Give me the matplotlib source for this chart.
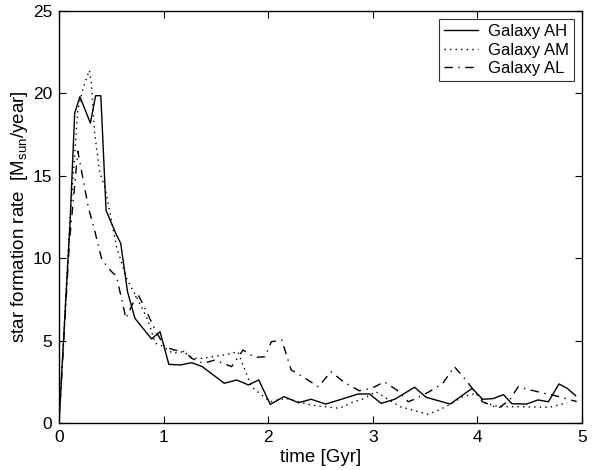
import numpy as np
import matplotlib
matplotlib.use('Agg')
import matplotlib.pyplot as plt

plt.rcParams['font.family'] = ['Liberation Sans', 'DejaVu Sans']

# Galaxy AH (solid)
t_ah = [0, 0.105, 0.15, 0.2, 0.3, 0.35, 0.4, 0.45, 0.55, 0.59, 0.655, 0.726, 0.885, 0.966,
        1.05, 1.16, 1.27, 1.37, 1.58, 1.70, 1.81, 1.91, 2.02, 2.15, 2.29, 2.41, 2.55, 2.70,
        2.86, 2.97, 3.08, 3.21, 3.40, 3.51, 3.74, 3.95, 4.05, 4.15, 4.25, 4.33, 4.47, 4.58,
        4.68, 4.78, 4.86, 4.94]
sfr_ah = [0, 12.1, 18.8, 19.8, 18.2, 19.86, 19.86, 12.9, 11.4, 10.9, 7.97, 6.35, 5.1, 5.54,
          3.56, 3.52, 3.66, 3.42, 2.41, 2.61, 2.31, 2.61, 1.13, 1.6, 1.23, 1.44, 1.15, 1.44,
          1.76, 1.76, 1.19, 1.44, 2.17, 1.56, 1.15, 2.1, 1.44, 1.48, 1.72, 1.17, 1.15, 1.4,
          1.29, 2.37, 2.1, 1.66]

# Galaxy AM (dotted)
t_am = [0, 0.1, 0.18, 0.23, 0.29, 0.31, 0.34, 0.39, 0.44, 0.55, 0.65, 0.74, 0.85, 0.92,
        0.97, 1.09, 1.19, 1.28, 1.37, 1.46, 1.59, 1.71, 1.84, 2.02, 2.17, 2.29, 2.41, 2.54,
        2.68, 2.82, 2.90, 3.03, 3.26, 3.38, 3.52, 3.60, 3.73, 3.86, 3.99, 4.08, 4.21, 4.40,
        4.69, 4.78, 4.86]
sfr_am = [0, 11.8, 19.0, 20.3, 21.4, 20.6, 17.6, 15.2, 14.3, 10.7, 8.7, 7.66, 6.25, 4.84,
          4.73, 4.23, 4.33, 3.92, 3.92, 4.02, 4.13, 4.33, 2.2, 1.29, 1.5, 1.29, 1.09, 0.99,
          0.89, 1.29, 1.44, 1.9, 0.99, 0.79, 0.53, 0.69, 1.09, 1.6, 1.8, 1.2, 0.99, 0.99,
          0.95, 1.1, 1.23]

# Galaxy AL (dash-dot)
t_al = [0, 0.1, 0.18, 0.28, 0.34, 0.41, 0.50, 0.55, 0.64, 0.75, 0.83, 0.92, 1.01, 1.10,
        1.20, 1.27, 1.38, 1.49, 1.65, 1.76, 1.87, 1.97, 2.03, 2.13, 2.22, 2.33, 2.48, 2.60,
        2.72, 2.87, 2.99, 3.11, 3.23, 3.34, 3.42, 3.54, 3.67, 3.78, 3.89, 4.05, 4.20, 4.31,
        4.39, 4.51, 4.64, 4.72, 4.95]
sfr_al = [0, 11.0, 16.5, 13.1, 11.7, 9.9, 9.2, 8.9, 6.35, 7.87, 6.86, 5.64, 4.63, 4.43,
          4.33, 3.92, 3.62, 3.82, 3.42, 4.43, 3.98, 4.02, 4.93, 5.04, 3.22, 2.81, 2.2, 3.11,
          2.5, 1.96, 2.1, 2.5, 2.0, 1.29, 1.5, 1.9, 2.41, 3.42, 2.61, 1.29, 0.89, 1.4,
          2.2, 2.0, 1.8, 1.7, 1.3]

fig = plt.figure(figsize=(5.99, 4.70), dpi=100)
ax = fig.add_axes([0.0985, 0.1, 0.873, 0.8766])

ax.plot(t_ah, sfr_ah, color='black', lw=1.0, linestyle='-', label='Galaxy AH')
ax.plot(t_am, sfr_am, color='black', lw=1.0, linestyle=(0, (1, 3)), label='Galaxy AM')
ax.plot(t_al, sfr_al, color='black', lw=1.0, linestyle=(0, (6, 4, 1, 4)), label='Galaxy AL')

ax.set_xlim(0, 5)
ax.set_ylim(0, 25)
ax.set_xticks(range(0, 6))
ax.set_yticks(range(0, 26, 5))
ax.tick_params(direction='in', top=True, right=True, labelsize=12.5, length=5, width=0.8, pad=5)
for s in ax.spines.values():
    s.set_linewidth(1.0)

ax.set_xlabel('time [Gyr]', fontsize=13.5, labelpad=3)
ax.set_ylabel('star formation rate  [M$_{\\mathregular{sun}}$/year]', fontsize=13.5, labelpad=2)

leg = ax.legend(loc='upper right', fontsize=12, frameon=True, fancybox=False,
                edgecolor='black', handlelength=2.0, borderaxespad=0.5,
                labelspacing=0.2, borderpad=0.3, handletextpad=0.6)
leg.get_frame().set_linewidth(0.8)

fig.savefig('out.png', dpi=100)
